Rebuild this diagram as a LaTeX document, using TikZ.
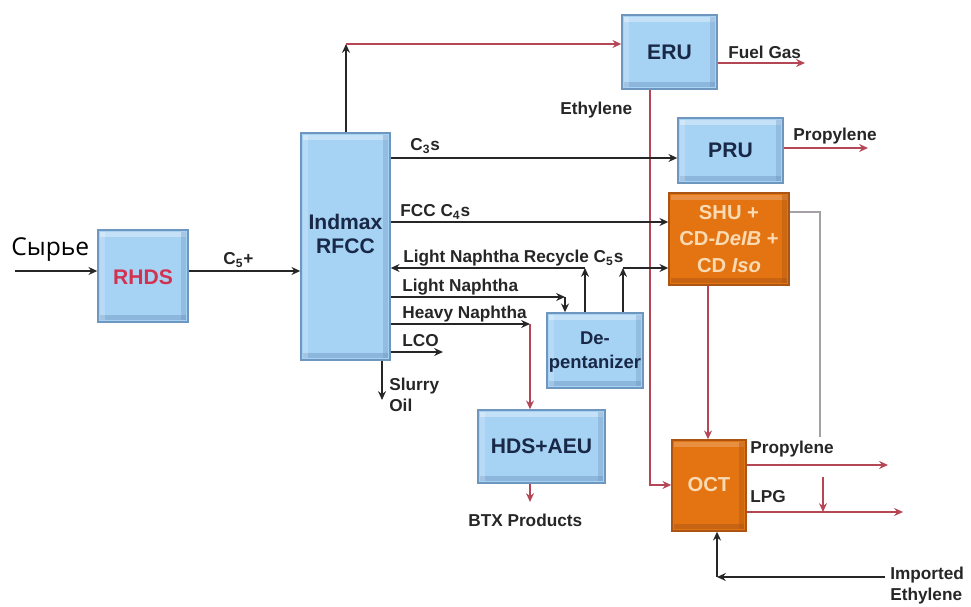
\documentclass[tikz,border=0pt]{standalone}
\usepackage{fontspec}
\setmainfont{Liberation Sans}
\newfontfamily\feedfont{Open Sans}
\usetikzlibrary{arrows.meta}
\newlength\pxl
\setlength\pxl{0.02cm}
\newcommand\sbx[1]{\textsubscript{#1}}
\definecolor{boxblue}{RGB}{166,210,244}
\definecolor{boxedge}{RGB}{110,150,190}
\definecolor{navy}{RGB}{24,40,70}
\definecolor{orng}{RGB}{228,116,18}
\definecolor{orngedge}{RGB}{170,85,20}
\definecolor{peach}{RGB}{250,218,178}
\definecolor{rline}{RGB}{180,70,85}
\definecolor{gline}{RGB}{165,160,165}
\definecolor{rtext}{RGB}{210,50,80}
\tikzset{
  bbox/.style={draw=boxedge, line width=0.8pt, fill=boxblue, inner sep=0pt,
    path picture={
      \fill[white,opacity=0.35] ([shift={(1pt,-1pt)}]path picture bounding box.north west) rectangle ([shift={(-1pt,-4pt)}]path picture bounding box.north east);
      \fill[boxedge,opacity=0.45] ([shift={(1pt,1pt)}]path picture bounding box.south west) rectangle ([shift={(-1pt,4pt)}]path picture bounding box.south east);
      \fill[boxedge,opacity=0.35] ([shift={(-4pt,1pt)}]path picture bounding box.south east) rectangle ([shift={(-1pt,-1pt)}]path picture bounding box.north east);
      \fill[white,opacity=0.2] ([shift={(1pt,1pt)}]path picture bounding box.south west) rectangle ([shift={(4pt,-1pt)}]path picture bounding box.north west);
    }},
  obox/.style={draw=orngedge, line width=0.8pt, fill=orng, inner sep=0pt,
    path picture={
      \fill[white,opacity=0.2] ([shift={(1pt,-1pt)}]path picture bounding box.north west) rectangle ([shift={(-1pt,-4pt)}]path picture bounding box.north east);
      \fill[orngedge,opacity=0.5] ([shift={(1pt,1pt)}]path picture bounding box.south west) rectangle ([shift={(-1pt,4pt)}]path picture bounding box.south east);
      \fill[orngedge,opacity=0.4] ([shift={(-4pt,1pt)}]path picture bounding box.south east) rectangle ([shift={(-1pt,-1pt)}]path picture bounding box.north east);
    }},
  btxt/.style={font=\bfseries\fontsize{12}{14}\selectfont, text=navy, align=center},
  otxt/.style={font=\bfseries\fontsize{11.5}{15}\selectfont, text=peach, align=center},
  lbl/.style={font=\bfseries\fontsize{9.8}{12}\selectfont, text=black!85, anchor=west, inner sep=0pt},
  arr/.style={-{Stealth[length=5pt,width=4.5pt]}},
  blk/.style={draw=black!85, line width=0.9pt},
  rd/.style={draw=rline, line width=0.9pt},
  gr/.style={draw=gline, line width=0.9pt},
}
\begin{document}
\begin{tikzpicture}[x=0.02cm,y=-0.02cm]
\useasboundingbox (0,0) rectangle (971,607);

% boxes
\node[bbox, minimum width=90\pxl, minimum height=92\pxl] (rhds) at (143,276) {};
\node[btxt, text=rtext] (rhdst) at (143,277) {RHDS};
\node[bbox, minimum width=89\pxl, minimum height=227\pxl] (rfcc) at (345.5,246.5) {};
\node[btxt] (rfcct) at (345.5,234) {Indmax\\RFCC};
\node[bbox, minimum width=95\pxl, minimum height=74\pxl] (eru) at (669.5,52) {};
\node[btxt] (erut) at (669.5,52) {ERU};
\node[bbox, minimum width=105\pxl, minimum height=65\pxl] (pru) at (730.5,150.5) {};
\node[btxt] (prut) at (730.5,150) {PRU};
\node[obox, minimum width=120\pxl, minimum height=92\pxl] (shu) at (729,239) {};
\node[otxt] (shut) at (729,239) {SHU +\\CD-\textit{DeIB} +\\CD \textit{Iso}};
\node[bbox, minimum width=96\pxl, minimum height=75\pxl] (dep) at (595,350.5) {};
\node[btxt, font=\bfseries\fontsize{10.5}{14}\selectfont] (dept) at (595,352) {De-\\pentanizer};
\node[bbox, minimum width=127\pxl, minimum height=73\pxl] (hds) at (541.5,446.5) {};
\node[btxt] (hdst) at (541.5,446) {HDS+AEU};
\node[obox, minimum width=74\pxl, minimum height=91\pxl] (oct) at (709,485.5) {};
\node[otxt] (octt) at (709,485) {OCT};

% labels
\node[font=\feedfont\fontsize{14}{16}\selectfont, anchor=west, inner sep=0pt] (feed) at (11,250) {Сырье};
\node[lbl] (c5p) at (223,260) {C\sbx{5}+};
\node[lbl] (c3s) at (410,146) {C\sbx{3}s};
\node[lbl] (fccc4) at (400,212) {FCC C\sbx{4}s};
\node[lbl] (lnr) at (403,258) {Light Naphtha Recycle C\sbx{5}s};
\node[lbl] (lnl) at (402,287) {Light Naphtha};
\node[lbl] (hnl) at (402,314) {Heavy Naphtha};
\node[lbl] (lcol) at (402,341) {LCO};
\node[lbl, align=left, anchor=north west] (sol) at (389,378) {Slurry\\Oil};
\node[lbl] (fgl) at (728,52) {Fuel Gas};
\node[lbl] (ethl) at (560,110) {Ethylene};
\node[lbl] (pp1) at (793,136) {Propylene};
\node[lbl] (pp2) at (750,449) {Propylene};
\node[lbl] (lpgl) at (750,497) {LPG};
\node[lbl] (btxl) at (468,520) {BTX Products};
\node[lbl, align=left, anchor=north west] (iel) at (890,567) {Imported\\Ethylene};

% coordinates
\coordinate (fs) at (15,271);
\coordinate (top) at (346,44);
\coordinate (fg) at (805,63);
\coordinate (eth) at (650,485);
\coordinate (pr1) at (868,148);
\coordinate (r1) at (585,268);
\coordinate (r2) at (623,268);
\coordinate (ln) at (565,297);
\coordinate (hn) at (530,324);
\coordinate (lco) at (443,352);
\coordinate (so) at (382,400);
\coordinate (btx) at (530,502);
\coordinate (g) at (820,437);
\coordinate (pr2) at (888,465);
\coordinate (lpg) at (903,512);
\coordinate (sm1) at (823,477);
\coordinate (sm2) at (823,512);
\coordinate (ie) at (885,577);
\coordinate (iec) at (717,577);

% connectors
\draw[blk,arr] (fs) -- (rhds.west |- fs);
\draw[blk,arr] (rhds.east |- fs) -- (rfcc.west |- fs);
\draw[blk,arr] (rfcc.north -| top) -- (top);
\draw[rd,arr] (top) -- (eru.west |- top);
\draw[rd,arr] (eru.east |- fg) -- (fg);
\draw[rd,arr] (eru.south -| eth) -- (eth) -- (oct.west |- eth);
\draw[blk,arr] (rfcc.east |- 0,158) -- (pru.west |- 0,158);
\draw[rd,arr] (pru.east |- pr1) -- (pr1);
\draw[blk,arr] (rfcc.east |- 0,222) -- (shu.west |- 0,222);
\draw[blk,arr] (dep.north -| r1) -- (r1);
\draw[blk,arr] (r1) -- (rfcc.east |- r1);
\draw[blk,arr] (dep.north -| r2) -- (r2);
\draw[blk,arr] (r2) -- (shu.west |- r2);
\draw[blk,arr] (rfcc.east |- ln) -- (ln);
\draw[blk,arr] (ln) -- (dep.north -| ln);
\draw[blk,arr] (rfcc.east |- hn) -- (hn);
\draw[rd,arr] (hn) -- (hds.north -| hn);
\draw[blk,arr] (rfcc.east |- lco) -- (lco);
\draw[blk,arr] (rfcc.south -| so) -- (so);
\draw[rd,arr] (hds.south -| btx) -- (btx);
\draw[rd,arr] (shu.south -| 708,0) -- (oct.north -| 708,0);
\draw[gr] (shu.east |- 0,212) -| (g);
\draw[rd,arr] (oct.east |- pr2) -- (pr2);
\draw[rd,arr] (oct.east |- lpg) -- (lpg);
\draw[rd,arr] (sm1) -- (sm2);
\draw[blk,arr] (ie) -- (iec);
\draw[blk,arr] (iec) -- (oct.south -| iec);
\end{tikzpicture}
\end{document}
